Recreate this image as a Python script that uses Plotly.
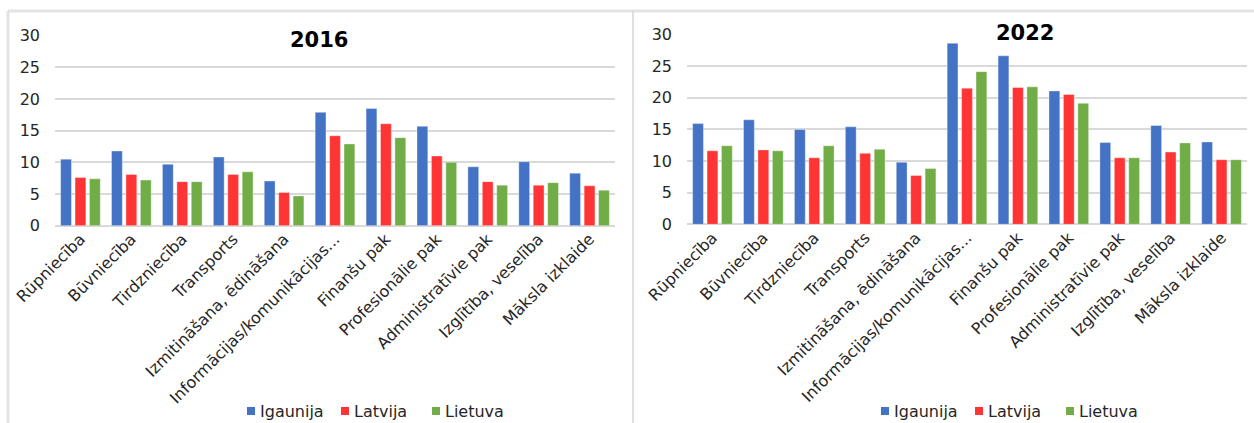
import plotly.graph_objects as go

# Sector categories (shared by both panels)
categories = [
    "Rūpniecība", "Būvniecība", "Tirdzniecība", "Transports",
    "Izmitināšana, ēdināšana", "Informācijas/komunikācijas...",
    "Finanšu pak", "Profesionālie pak", "Administratīvie pak",
    "Izglītība, veselība", "Māksla izklaide",
]
countries = ["Igaunija", "Latvija", "Lietuva"]
years = ["2016", "2022"]

igaunija_2016 = [10.5, 11.8, 9.7, 10.85, 7.05, 17.9, 18.5, 15.7, 9.3, 10.1, 8.3]
latvija_2016 = [7.6, 8.1, 6.95, 8.1, 5.25, 14.2, 16.1, 11.0, 6.95, 6.4, 6.3]
lietuva_2016 = [7.4, 7.2, 6.95, 8.5, 4.7, 12.9, 13.9, 10.0, 6.4, 6.8, 5.6]

igaunija_2022 = [15.9, 16.5, 14.95, 15.4, 9.8, 28.6, 26.6, 21.05, 12.9, 15.6, 13.0]
latvija_2022 = [11.6, 11.75, 10.5, 11.2, 7.7, 21.5, 21.6, 20.5, 10.5, 11.4, 10.2]
lietuva_2022 = [12.4, 11.6, 12.4, 11.85, 8.8, 24.1, 21.7, 19.1, 10.5, 12.85, 10.2]

y_ticks = [0, 5, 10, 15, 20, 25, 30]

series = {
    "2016": [igaunija_2016, latvija_2016, lietuva_2016],
    "2022": [igaunija_2022, latvija_2022, lietuva_2022],
}
colors = ["#4472C4", "#FF3535", "#70AD47"]

W, H = 1254, 423
FONT = "DejaVu Sans"
TEXT = "#262626"


def px_x(x):
    return x / W


def px_y(y):
    return 1 - y / H


fig = go.Figure()

for i, year in enumerate(years):
    axis_suffix = "" if i == 0 else "2"
    for name, vals, col in zip(countries, series[year], colors):
        fig.add_trace(go.Bar(
            x=categories, y=vals, name=name,
            marker=dict(color=col, line=dict(width=0.6, color="rgba(255,255,255,0.6)")),
            xaxis="x" + axis_suffix, yaxis="y" + axis_suffix,
            offsetgroup=name, showlegend=False,
            hoverinfo="x+y+name",
        ))

xaxis_common = dict(
    tickfont=dict(family=FONT, size=16, color=TEXT),
    showline=False, ticks="", tickangle=-45, automargin=False,
)
yaxis_common = dict(
    range=[0, 30], tickvals=y_ticks, showgrid=True,
    gridcolor="#D9D9D9", gridwidth=1.5,
    zeroline=True, zerolinecolor="#D9D9D9", zerolinewidth=1.5,
    tickfont=dict(family=FONT, size=16, color=TEXT),
    ticks="", ticklabelstandoff=14, showline=False, automargin=False,
)

# Per-panel legend: colour square + country name, drawn in paper space
legend_starts = [247, 881]
legend_offsets = [0, 94, 185]
legend_y = 411
sq = 8
shapes = []
annotations = []
for start in legend_starts:
    for name, col, off in zip(countries, colors, legend_offsets):
        x0 = start + off
        shapes.append(dict(
            type="rect", xref="paper", yref="paper",
            x0=px_x(x0), x1=px_x(x0 + sq),
            y0=px_y(legend_y + sq / 2), y1=px_y(legend_y - sq / 2),
            fillcolor=col, line=dict(width=0),
        ))
        annotations.append(dict(
            text=name, x=px_x(x0 + sq + 3), y=px_y(legend_y), xref="paper", yref="paper",
            xanchor="left", yanchor="middle", showarrow=False,
            font=dict(family=FONT, size=16, color=TEXT),
        ))

# Panel frames
shapes += [
    dict(type="line", xref="paper", yref="paper", x0=px_x(8), x1=1, y0=px_y(11), y1=px_y(11),
         line=dict(color="#E3E3E3", width=3)),
    dict(type="line", xref="paper", yref="paper", x0=px_x(8), x1=px_x(8), y0=px_y(11), y1=0,
         line=dict(color="#E3E3E3", width=3)),
    dict(type="line", xref="paper", yref="paper", x0=px_x(633), x1=px_x(633), y0=px_y(11), y1=0,
         line=dict(color="#D6D6D6", width=1.5)),
]

# Panel titles
annotations += [
    dict(text="<b>2016</b>", x=px_x(319), y=px_y(40), xref="paper", yref="paper",
         xanchor="center", yanchor="middle",
         showarrow=False, font=dict(family=FONT, size=21, color="black")),
    dict(text="<b>2022</b>", x=px_x(1025), y=px_y(33), xref="paper", yref="paper",
         xanchor="center", yanchor="middle",
         showarrow=False, font=dict(family=FONT, size=21, color="black")),
]

fig.update_layout(
    width=W, height=H,
    margin=dict(l=0, r=0, t=0, b=0, autoexpand=False),
    paper_bgcolor="white", plot_bgcolor="white",
    barmode="group", bargap=0.15, bargroupgap=0.25,
    font=dict(family=FONT, color=TEXT),
    showlegend=False,
    xaxis=dict(domain=[px_x(55), px_x(615)], anchor="y", **xaxis_common),
    yaxis=dict(domain=[px_y(225.7), px_y(35.7)], anchor="x", **yaxis_common),
    xaxis2=dict(domain=[px_x(687), px_x(1247)], anchor="y2", **xaxis_common),
    yaxis2=dict(domain=[px_y(224.3), px_y(34.3)], anchor="x2", **yaxis_common),
    shapes=shapes,
    annotations=annotations,
)

fig.write_html("out.html")
